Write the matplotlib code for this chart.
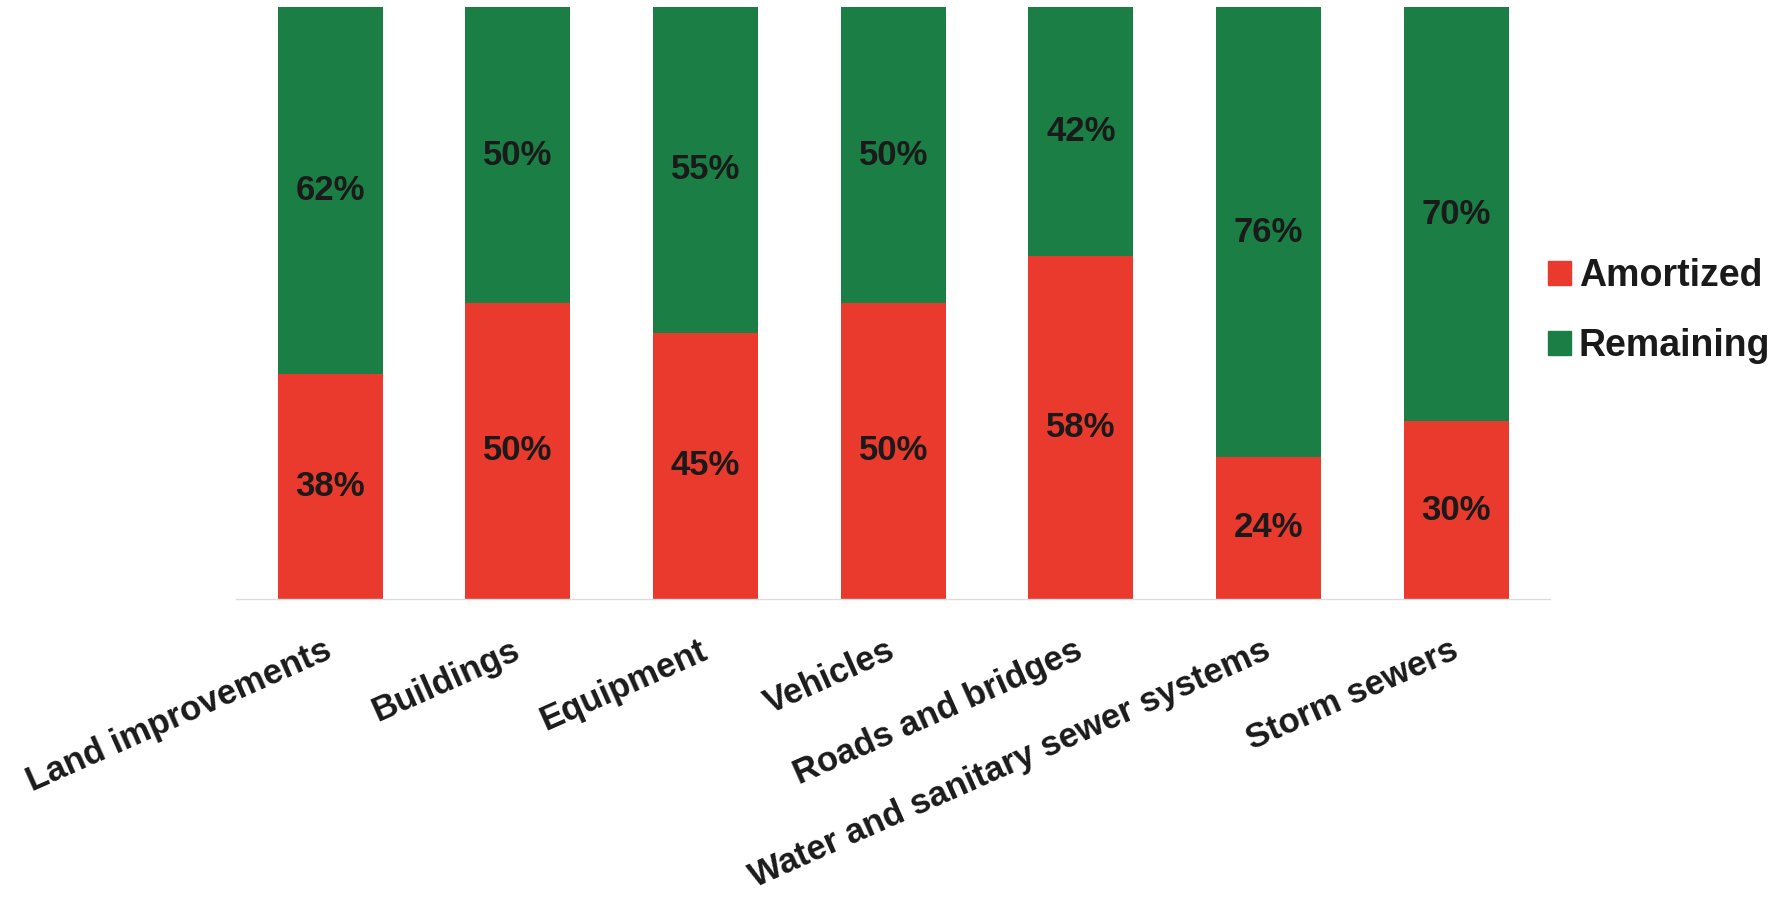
import numpy as np
from matplotlib import pyplot as plt
from matplotlib.patches import Patch

plt.rcParams['font.family'] = ['Liberation Sans', 'DejaVu Sans']

categories = ['Land improvements', 'Buildings', 'Equipment', 'Vehicles',
              'Roads and bridges', 'Water and sanitary sewer systems', 'Storm sewers']
amortized = [38, 50, 45, 50, 58, 24, 30]
remaining = [62, 50, 55, 50, 42, 76, 70]

red = '#EA3A2E'
green = '#1B7F45'
text_color = '#1a1a1a'

fig = plt.figure(figsize=(17.9, 9.02), dpi=100)
ax = fig.add_axes([0.132, 0.336, 0.734, 0.656])

x = np.arange(len(categories))
am = np.array(amortized)
rem = np.array(remaining)

ax.bar(x, am, width=0.56, color=red, label='Amortized')
ax.bar(x, rem, width=0.56, bottom=am, color=green, label='Remaining')

# percentage labels centred in each segment
for i in range(len(x)):
    ax.text(x[i], am[i] / 2, f'{amortized[i]}%', ha='center', va='center',
            fontsize=25, fontweight='bold', color=text_color)
    ax.text(x[i], am[i] + rem[i] / 2, f'{remaining[i]}%', ha='center', va='center',
            fontsize=25, fontweight='bold', color=text_color)

ax.set_xlim(-0.5, len(x) - 0.5)
ax.set_ylim(0, 100)
ax.set_xticks(x)
ax.set_xticklabels(categories, rotation=24, ha='right', va='center',
                   rotation_mode='anchor', fontsize=25, fontweight='bold',
                   color=text_color)
ax.tick_params(axis='x', length=0, pad=36)
ax.set_yticks([])
for side in ['top', 'right', 'left']:
    ax.spines[side].set_visible(False)
ax.spines['bottom'].set_color('#dddddd')
ax.spines['bottom'].set_linewidth(1)

handles = [Patch(color=red, label='Amortized'), Patch(color=green, label='Remaining')]
fig.legend(handles=handles, loc='center left', bbox_to_anchor=(0.846, 0.655),
           frameon=False, handlelength=0.62, handleheight=0.62, handletextpad=0.2,
           labelspacing=0.92, prop={'size': 27, 'weight': 'bold'},
           labelcolor=text_color)

fig.savefig('out.png', dpi=100, facecolor='white')
